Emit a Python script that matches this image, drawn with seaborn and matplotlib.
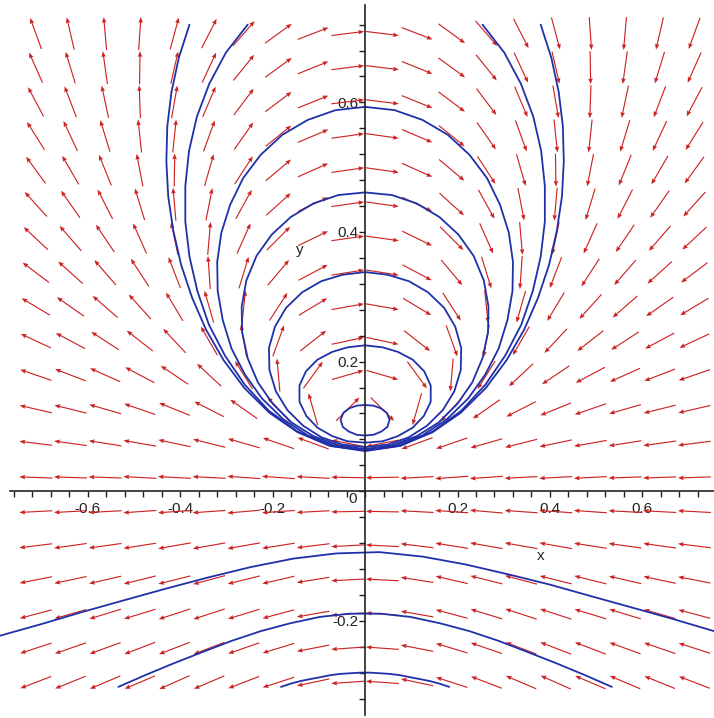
import numpy as np
import matplotlib
matplotlib.use("Agg")
import matplotlib.pyplot as plt
from matplotlib.ticker import MultipleLocator, FixedLocator
import seaborn as sns

# Direction field grid (arrow centres)
x_grid = [-0.7125, -0.6375, -0.5625, -0.4875, -0.4125, -0.3375, -0.2625, -0.1875, -0.1125, -0.0375,
          0.0375, 0.1125, 0.1875, 0.2625, 0.3375, 0.4125, 0.4875, 0.5625, 0.6375, 0.7125]
y_grid = [-0.295, -0.2423, -0.1896, -0.1369, -0.0842, -0.0315, 0.0212, 0.0739, 0.1266, 0.1793,
          0.232, 0.2847, 0.3374, 0.3901, 0.4428, 0.4955, 0.5482, 0.6009, 0.6536, 0.7063]

# arrow directions on screen (degrees), one row per y_grid value, bottom row first
arrow_angle = [
    [-159, -158, -157, -157, -156, -157, -159, -162, -168, -176, 176, 168, 162, 159, 157, 156, 157, 157, 158, 159],
    [-162, -161, -160, -159, -159, -159, -161, -163, -169, -176, 176, 169, 163, 161, 159, 159, 159, 160, 161, 162],
    [-165, -164, -163, -163, -162, -162, -163, -165, -170, -176, 176, 170, 165, 163, 162, 162, 163, 163, 164, 165],
    [-169, -168, -167, -166, -166, -165, -166, -167, -171, -177, 177, 171, 167, 166, 165, 166, 166, 167, 168, 169],
    [-173, -172, -172, -171, -170, -170, -170, -171, -173, -177, 177, 173, 171, 170, 170, 170, 171, 172, 172, 173],
    [-177, -177, -177, -176, -176, -176, -175, -176, -177, -179, 179, 177, 176, 175, 176, 176, 176, 177, 177, 177],
    [178, 178, 178, 177, 177, 177, 176, 176, 177, 179, -179, -177, -176, -176, -177, -177, -177, -178, -178, -178],
    [173, 172, 171, 170, 168, 166, 164, 161, 160, 169, -169, -160, -161, -164, -166, -168, -170, -171, -172, -173],
    [167, 166, 164, 161, 158, 153, 145, 132, 106, 45, -45, -106, -132, -145, -153, -158, -161, -164, -166, -167],
    [161, 159, 156, 152, 146, 137, 122, 95, 54, 16, -16, -54, -95, -122, -137, -146, -152, -156, -159, -161],
    [155, 152, 147, 142, 133, 120, 100, 70, 38, 12, -12, -38, -70, -100, -120, -133, -142, -147, -152, -155],
    [149, 145, 139, 132, 121, 106, 84, 57, 31, 10, -10, -31, -57, -84, -106, -121, -132, -139, -145, -149],
    [143, 138, 131, 123, 111, 94, 73, 50, 28, 9, -9, -28, -50, -73, -94, -111, -123, -131, -138, -143],
    [137, 131, 124, 114, 102, 85, 66, 45, 26, 8, -8, -26, -45, -66, -85, -102, -114, -124, -131, -137],
    [132, 125, 117, 107, 95, 79, 61, 42, 25, 8, -8, -25, -42, -61, -79, -95, -107, -117, -125, -132],
    [126, 120, 112, 101, 89, 74, 57, 40, 24, 8, -8, -24, -40, -57, -74, -89, -101, -112, -120, -126],
    [122, 115, 107, 96, 84, 70, 55, 39, 23, 8, -8, -23, -39, -55, -70, -84, -96, -107, -115, -122],
    [118, 111, 102, 92, 80, 67, 53, 37, 22, 7, -7, -22, -37, -53, -67, -80, -92, -102, -111, -118],
    [114, 107, 98, 89, 77, 65, 51, 36, 22, 7, -7, -22, -36, -51, -65, -77, -89, -98, -107, -114],
    [110, 103, 95, 86, 75, 63, 49, 36, 21, 7, -7, -21, -36, -49, -63, -75, -86, -95, -103, -110],
]

# Solution curves above the x axis: right half of each (symmetric) orbit, top to bottom
loop_a_x = [0.000, 0.018, 0.034, 0.047, 0.053, 0.048, 0.035, 0.018, 0.001]
loop_a_y = [0.133, 0.132, 0.128, 0.121, 0.110, 0.099, 0.092, 0.087, 0.086]
loop_b_x = [0.001, 0.038, 0.071, 0.103, 0.128, 0.142, 0.142, 0.127, 0.103, 0.071, 0.038, 0.002]
loop_b_y = [0.225, 0.222, 0.215, 0.203, 0.185, 0.163, 0.138, 0.116, 0.098, 0.085, 0.077, 0.075]
loop_c_x = [0.002, 0.049, 0.095, 0.136, 0.171, 0.195, 0.208, 0.207, 0.193, 0.168, 0.134, 0.094, 0.049, 0.001]
loop_c_y = [0.338, 0.334, 0.324, 0.307, 0.283, 0.254, 0.221, 0.187, 0.154, 0.125, 0.101, 0.083, 0.072, 0.068]
loop_d_x = [0.001, 0.058, 0.112, 0.161, 0.202, 0.235, 0.257, 0.267, 0.266, 0.254, 0.232, 0.200, 0.159, 0.112,
            0.058, 0.002]
loop_d_y = [0.461, 0.457, 0.444, 0.423, 0.396, 0.363, 0.325, 0.285, 0.245, 0.205, 0.168, 0.135, 0.106, 0.085,
            0.071, 0.065]
loop_e_x = [0.001, 0.064, 0.124, 0.179, 0.226, 0.264, 0.292, 0.311, 0.320, 0.319, 0.308, 0.289, 0.260, 0.223,
            0.177, 0.124, 0.065, 0.002]
loop_e_y = [0.593, 0.588, 0.573, 0.550, 0.519, 0.483, 0.442, 0.399, 0.354, 0.309, 0.264, 0.220, 0.180, 0.143,
            0.111, 0.086, 0.070, 0.064]
loop_f_x = [0.254, 0.301, 0.337, 0.364, 0.381, 0.389, 0.389, 0.380, 0.363, 0.338, 0.303, 0.260, 0.208, 0.146,
            0.076, 0.001]
loop_f_y = [0.720, 0.677, 0.629, 0.578, 0.525, 0.471, 0.416, 0.362, 0.309, 0.257, 0.209, 0.164, 0.124, 0.092,
            0.070, 0.063]
loop_g_x = [0.380, 0.403, 0.419, 0.428, 0.430, 0.426, 0.415, 0.398, 0.374, 0.344, 0.306, 0.261, 0.207, 0.146,
            0.076, 0.001]
loop_g_y = [0.720, 0.669, 0.616, 0.563, 0.509, 0.455, 0.402, 0.349, 0.298, 0.249, 0.202, 0.159, 0.121, 0.091,
            0.070, 0.062]

# Solution curves below the x axis
arc_1_x = [-0.182, -0.161, -0.140, -0.119, -0.097, -0.076, -0.054, -0.033, -0.011,
           0.011, 0.033, 0.054, 0.076, 0.097, 0.119, 0.140, 0.161, 0.182]
arc_1_y = [-0.302, -0.297, -0.293, -0.290, -0.287, -0.284, -0.282, -0.281, -0.280,
           -0.280, -0.281, -0.282, -0.284, -0.287, -0.290, -0.293, -0.297, -0.302]
arc_2_x = [-0.534, -0.473, -0.412, -0.351, -0.289, -0.226, -0.163, -0.098, -0.033,
           0.033, 0.098, 0.163, 0.226, 0.289, 0.351, 0.412, 0.473, 0.534]
arc_2_y = [-0.302, -0.283, -0.265, -0.248, -0.231, -0.216, -0.204, -0.194, -0.189,
           -0.189, -0.194, -0.204, -0.216, -0.231, -0.248, -0.265, -0.283, -0.302]
arc_3_x = [-0.790, -0.700, -0.610, -0.520, -0.429, -0.339, -0.247, -0.155, -0.062,
           0.031, 0.125, 0.217, 0.308, 0.399, 0.489, 0.580, 0.670, 0.760]
arc_3_y = [-0.223, -0.205, -0.186, -0.168, -0.150, -0.133, -0.117, -0.104, -0.096,
           -0.094, -0.101, -0.113, -0.128, -0.144, -0.162, -0.180, -0.198, -0.217]

x_ticks = [-0.6, -0.4, -0.2, 0.2, 0.4, 0.6]
y_ticks = [-0.2, 0.2, 0.4, 0.6]

sns.set_theme(style="white")
plt.rcParams['font.family'] = ['Liberation Sans', 'DejaVu Sans']
plt.rcParams['axes.unicode_minus'] = False

fig = plt.figure(figsize=(7.14, 7.18), dpi=100)
ax = fig.add_axes([0, 0, 1, 1])
ax.set_xlim(-0.790, 0.755)
ax.set_ylim(-0.350, 0.758)

# direction field: equal length arrows
gx, gy = np.meshgrid(x_grid, y_grid)
theta = np.radians(np.array(arrow_angle, dtype=float))
ax.quiver(gx, gy, np.cos(theta), np.sin(theta), angles='uv', scale_units='dots', scale=1 / 33,
          pivot='mid', color='#cc2222', width=0.0016, headwidth=4, headlength=5,
          headaxislength=4.5, zorder=2)

# closed / clipped orbits above the axis (mirror the right half)
loops = [(loop_a_x, loop_a_y), (loop_b_x, loop_b_y), (loop_c_x, loop_c_y), (loop_d_x, loop_d_y),
         (loop_e_x, loop_e_y), (loop_f_x, loop_f_y), (loop_g_x, loop_g_y)]
for hx, hy in loops:
    hx, hy = np.array(hx), np.array(hy)
    cx = np.concatenate([hx, -hx[::-1]])
    cy = np.concatenate([hy, hy[::-1]])
    sns.lineplot(x=cx, y=cy, sort=False, estimator=None, color='#2030a8', linewidth=1.3, ax=ax, zorder=3)

for cx, cy in [(arc_1_x, arc_1_y), (arc_2_x, arc_2_y), (arc_3_x, arc_3_y)]:
    sns.lineplot(x=cx, y=cy, sort=False, estimator=None, color='#2030a8', linewidth=1.3, ax=ax, zorder=3)

# axes through the origin
for s in ['top', 'right']:
    ax.spines[s].set_visible(False)
ax.spines['left'].set_position(('data', 0))
ax.spines['bottom'].set_position(('data', 0))
ax.spines['bottom'].set_bounds(-0.768, 0.755)
ax.spines['left'].set_bounds(-0.345, 0.75)
for s in ['left', 'bottom']:
    ax.spines[s].set_color('#222222')
    ax.spines[s].set_linewidth(1.2)
    ax.spines[s].set_zorder(4)
ax.xaxis.set_major_locator(FixedLocator(x_ticks))
ax.yaxis.set_major_locator(FixedLocator(y_ticks))
ax.xaxis.set_minor_locator(MultipleLocator(0.04))
ax.yaxis.set_minor_locator(MultipleLocator(0.04))
ax.tick_params(which='both', direction='out', length=4, width=1, color='#222222',
               labelsize=11, labelcolor='#222222', bottom=True, left=True)
ax.tick_params(axis='x', pad=4)
ax.tick_params(axis='y', pad=1)
ax.text(-0.028, -0.012, '0', fontsize=11, color='#222222', ha='center', va='center')
ax.text(0.379, -0.100, 'x', fontsize=11, color='#222222', ha='center', va='center')
ax.text(-0.141, 0.372, 'y', fontsize=11, color='#222222', ha='center', va='center')
ax.set_xlabel('')
ax.set_ylabel('')
ax.grid(False)

fig.savefig('out.png', dpi=100)
